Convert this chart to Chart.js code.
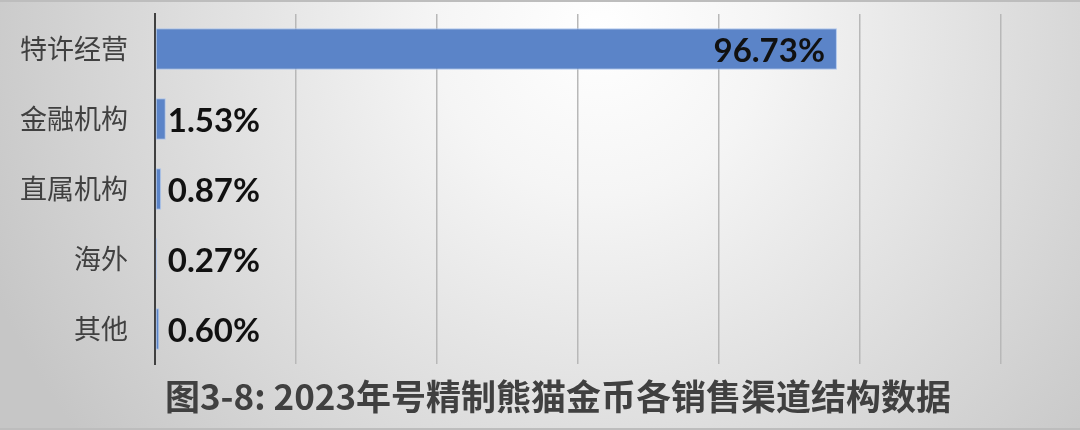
<!DOCTYPE html>
<html>
<head>
<meta charset="utf-8">
<script src="https://cdn.jsdelivr.net/npm/chart.js@4.4.1/dist/chart.umd.min.js"></script>
<style>
  html, body { margin: 0; padding: 0; background: #ffffff; }
  #wrap { width: 1080px; height: 430px; position: relative; }
</style>
</head>
<body>
<div id="wrap"><canvas id="c" width="1080" height="430"></canvas></div>
<script>
const categories = ['特许经营', '金融机构', '直属机构', '海外', '其他'];
const shares = [96.73, 1.53, 0.87, 0.27, 0.60];
const valueLabels = ['96.73%', '1.53%', '0.87%', '0.27%', '0.60%'];
const xTicks = [0, 20, 40, 60, 80, 100, 120];
const titleText = '图3-8: 2023年号精制熊猫金币各销售渠道结构数据';

const bgPlugin = {
  id: 'bg',
  beforeDraw(chart) {
    const ctx = chart.ctx;
    const w = chart.width, h = chart.height;
    ctx.save();
    const g = ctx.createRadialGradient(600, 30, 0, 600, 30, 660);
    g.addColorStop(0, '#ffffff');
    g.addColorStop(0.25, '#f5f5f5');
    g.addColorStop(1, '#c6c6c6');
    ctx.fillStyle = g;
    ctx.fillRect(0, 0, w, h);
    ctx.fillStyle = '#bdbdbd';
    ctx.fillRect(0, 0, w, 2);
    ctx.fillRect(0, h - 2, w, 2);
    ctx.restore();
  }
};

const labelPlugin = {
  id: 'valueLabels',
  afterDatasetsDraw(chart) {
    const ctx = chart.ctx;
    const meta = chart.getDatasetMeta(0);
    ctx.save();
    ctx.font = 'bold 33px Lato, "Noto Sans", sans-serif';
    ctx.fillStyle = '#111111';
    ctx.textBaseline = 'middle';
    meta.data.forEach((bar, i) => {
      const v = shares[i];
      if (v > 50) {
        ctx.textAlign = 'right';
        ctx.fillText(valueLabels[i], bar.x - 12, bar.y + 2);
      } else {
        ctx.textAlign = 'left';
        ctx.fillText(valueLabels[i], Math.max(bar.x + 2, bar.base + 12), bar.y + 2);
      }
    });
    ctx.restore();
  }
};

const titlePlugin = {
  id: 'bottomTitle',
  afterDraw(chart) {
    const ctx = chart.ctx;
    ctx.save();
    ctx.font = 'bold 35px "Noto Sans CJK SC", sans-serif';
    ctx.fillStyle = '#404040';
    ctx.textAlign = 'center';
    ctx.textBaseline = 'middle';
    ctx.fillText(titleText, 558, 397);
    ctx.restore();
  }
};

new Chart(document.getElementById('c'), {
  type: 'bar',
  data: {
    labels: categories,
    datasets: [{
      data: shares,
      backgroundColor: '#5b84c8',
      borderColor: 'rgba(170,195,235,0.9)',
      borderWidth: 1,
      borderSkipped: false,
      barPercentage: 0.59,
      categoryPercentage: 1.0
    }]
  },
  options: {
    indexAxis: 'y',
    responsive: false,
    animation: false,
    devicePixelRatio: 1,
    layout: { padding: { left: 0, right: 79, top: 14, bottom: 66 } },
    plugins: {
      legend: { display: false },
      tooltip: { enabled: false },
      title: { display: false }
    },
    scales: {
      x: {
        min: 0,
        max: 120,
        afterBuildTicks(scale) { scale.ticks = xTicks.map(v => ({ value: v })); },
        ticks: { display: false },
        grid: { color: '#b8b8b8', lineWidth: 1.5, drawTicks: false },
        border: { display: false }
      },
      y: {
        afterFit(scale) {
          scale.width = 155;
          scale.paddingTop = 0;
          scale.paddingBottom = 0;
        },
        ticks: {
          color: '#404040',
          padding: 27,
          font: { family: '"Noto Sans CJK SC", sans-serif', size: 27 }
        },
        grid: { display: false, drawTicks: false },
        border: { display: true, color: '#404040', width: 2 }
      }
    }
  },
  plugins: [bgPlugin, labelPlugin, titlePlugin]
});
</script>
</body>
</html>
